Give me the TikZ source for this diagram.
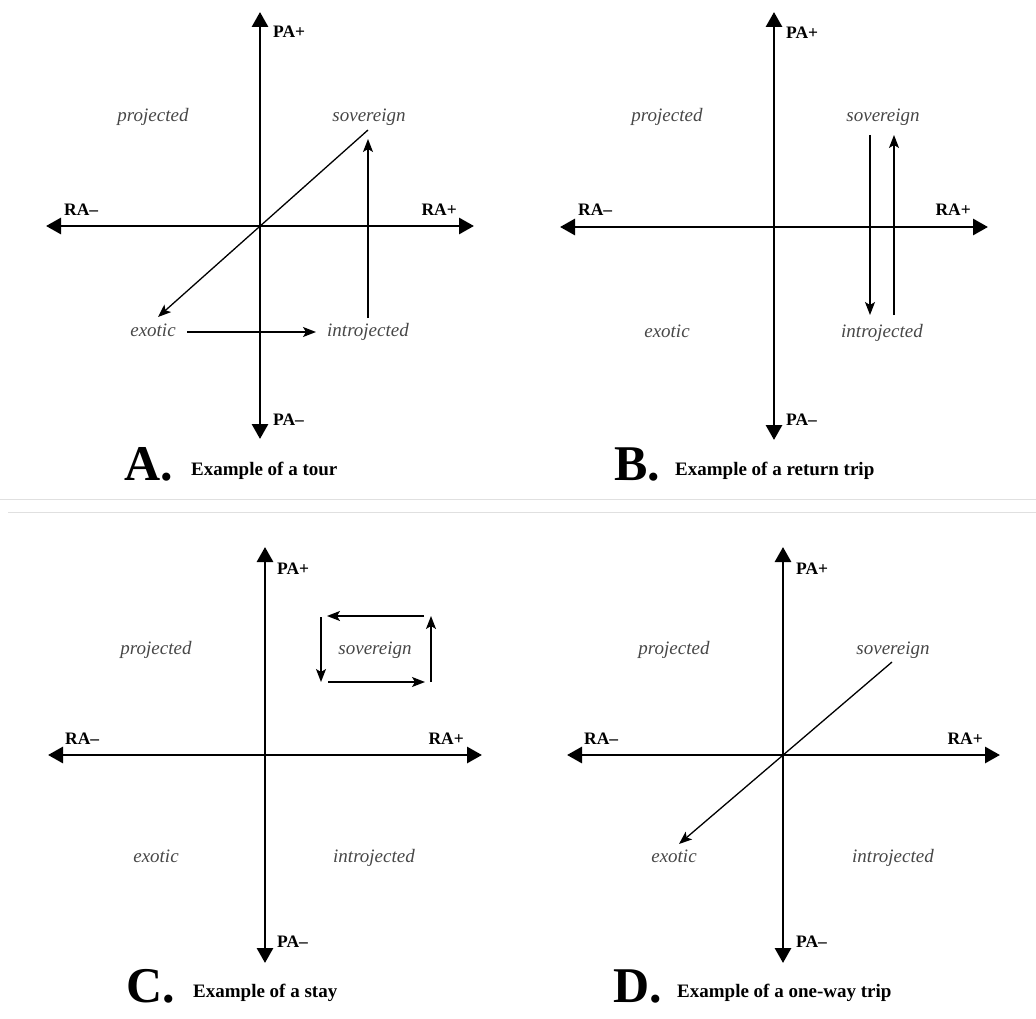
\documentclass[tikz,border=0pt]{standalone}
\usepackage{fontspec}
\setmainfont{Liberation Serif}
\usetikzlibrary{arrows.meta}
\tikzset{
 axis/.style={line width=2.9pt, {Triangle[length=15pt,width=16pt]}-{Triangle[length=15pt,width=16pt]}},
 trip/.style={line width=1.3pt, -{Stealth[length=13pt,width=10pt,inset=3pt]}},
 quad/.style={font=\fontsize{19}{21}\selectfont\itshape, text=black!72, inner sep=0pt, anchor=base},
 axlab/.style={font=\fontsize{17.5}{19}\selectfont\bfseries, inner sep=0pt},
 panlet/.style={font=\fontsize{50}{52}\selectfont\bfseries, inner sep=0pt, anchor=base west},
 pantxt/.style={font=\fontsize{19}{21}\selectfont\bfseries, inner sep=0pt, anchor=base west},
 sep/.style={draw=black!12, line width=1pt},
}
\begin{document}
\begin{tikzpicture}[x=1pt,y=-1pt]
\useasboundingbox (0,0) rectangle (1036,1019);
% separators
\coordinate (s1l) at (0,499); \coordinate (s1r) at (1036,499);
\coordinate (s2l) at (8,512); \coordinate (s2r) at (1036,512);
\draw[sep] (s1l) -- (s1r);
\draw[sep] (s2l) -- (s2r);

% ===== Panel A =====
\coordinate (At) at (260,12); \coordinate (Ab) at (260,439);
\coordinate (Al) at (46,226); \coordinate (Ar) at (474,226);
\draw[axis] (Al) -- (Ar);
\draw[axis] (Ab) -- (At);
\node[axlab, anchor=base west] (Apap) at (273,38) {PA+};
\node[axlab, anchor=base west] (Apam) at (273,425) {PA–};
\node[axlab, anchor=base west] (Aram) at (64,215) {RA–};
\node[axlab, anchor=base east] (Arap) at (457,215) {RA+};
\node[quad] (Aproj) at (153,122) {projected};
\node[quad] (Asov) at (369,122) {sovereign};
\node[quad] (Aexo) at (153,336) {exotic};
\node[quad] (Aint) at (368,336) {introjected};
\coordinate (Ad1) at (368,130); \coordinate (Ad2) at (158,317);
\draw[trip] (Ad1) -- (Ad2);
\coordinate (Ah1) at (187,332); \coordinate (Ah2) at (316,332);
\draw[trip] (Ah1) -- (Ah2);
\coordinate (Av1) at (368,318); \coordinate (Av2) at (368,139);
\draw[trip] (Av1) -- (Av2);
\node[panlet] (Alet) at (124,480) {A.};
\node[pantxt] (Atxt) at (191,475) {Example of a tour};

% ===== Panel B =====
\coordinate (Bt) at (774,12); \coordinate (Bb) at (774,440);
\coordinate (Bl) at (560,227); \coordinate (Br) at (988,227);
\draw[axis] (Bl) -- (Br);
\draw[axis] (Bb) -- (Bt);
\node[axlab, anchor=base west] (Bpap) at (786,39) {PA+};
\node[axlab, anchor=base west] (Bpam) at (786,425) {PA–};
\node[axlab, anchor=base west] (Bram) at (578,215) {RA–};
\node[axlab, anchor=base east] (Brap) at (971,215) {RA+};
\node[quad] (Bproj) at (667,122) {projected};
\node[quad] (Bsov) at (883,122) {sovereign};
\node[quad] (Bexo) at (667,337) {exotic};
\node[quad] (Bint) at (882,337) {introjected};
\coordinate (Bd1) at (870,135); \coordinate (Bd2) at (870,315);
\draw[trip] (Bd1) -- (Bd2);
\coordinate (Bu1) at (894,315); \coordinate (Bu2) at (894,135);
\draw[trip] (Bu1) -- (Bu2);
\node[panlet] (Blet) at (614,480) {B.};
\node[pantxt] (Btxt) at (675,475) {Example of a return trip};

% ===== Panel C =====
\coordinate (Ct) at (265,547); \coordinate (Cb) at (265,963);
\coordinate (Cl) at (48,755); \coordinate (Cr) at (482,755);
\draw[axis] (Cl) -- (Cr);
\draw[axis] (Cb) -- (Ct);
\node[axlab, anchor=base west] (Cpap) at (277,574) {PA+};
\node[axlab, anchor=base west] (Cpam) at (277,947) {PA–};
\node[axlab, anchor=base west] (Cram) at (65,744) {RA–};
\node[axlab, anchor=base east] (Crap) at (464,744) {RA+};
\node[quad] (Cproj) at (156,654) {projected};
\node[quad] (Csov) at (375,654) {sovereign};
\node[quad] (Cexo) at (156,862) {exotic};
\node[quad] (Cint) at (374,862) {introjected};
\coordinate (Ctr) at (424,616); \coordinate (Ctl) at (327,616);
\coordinate (Clt) at (321,617); \coordinate (Clb) at (321,682);
\coordinate (Cbl) at (328,682); \coordinate (Cbr) at (425,682);
\coordinate (Crb) at (431,682); \coordinate (Crt) at (431,616);
\draw[trip] (Ctr) -- (Ctl);
\draw[trip] (Clt) -- (Clb);
\draw[trip] (Cbl) -- (Cbr);
\draw[trip] (Crb) -- (Crt);
\node[panlet] (Clet) at (126,1002) {C.};
\node[pantxt] (Ctxt) at (193,997) {Example of a stay};

% ===== Panel D =====
\coordinate (Dt) at (783,547); \coordinate (Db) at (783,963);
\coordinate (Dl) at (567,755); \coordinate (Dr) at (1000,755);
\draw[axis] (Dl) -- (Dr);
\draw[axis] (Db) -- (Dt);
\node[axlab, anchor=base west] (Dpap) at (796,574) {PA+};
\node[axlab, anchor=base west] (Dpam) at (796,947) {PA–};
\node[axlab, anchor=base west] (Dram) at (584,744) {RA–};
\node[axlab, anchor=base east] (Drap) at (983,744) {RA+};
\node[quad] (Dproj) at (674,654) {projected};
\node[quad] (Dsov) at (893,654) {sovereign};
\node[quad] (Dexo) at (674,862) {exotic};
\node[quad] (Dint) at (893,862) {introjected};
\coordinate (Dd1) at (892,662); \coordinate (Dd2) at (679,844);
\draw[trip] (Dd1) -- (Dd2);
\node[panlet] (Dlet) at (613,1002) {D.};
\node[pantxt] (Dtxt) at (677,997) {Example of a one-way trip};
\end{tikzpicture}
\end{document}
